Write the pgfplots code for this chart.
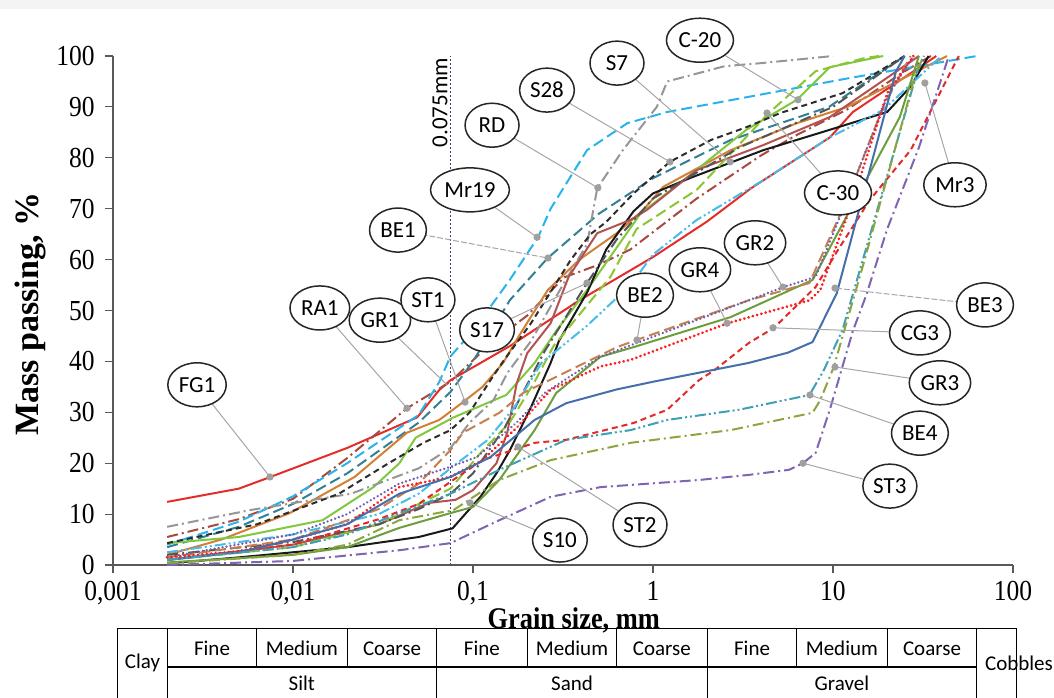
\documentclass[border=0pt]{standalone}
\usepackage{fontspec}
\usepackage{pgfplots}
\pgfplotsset{compat=1.18}
\usetikzlibrary{shapes.geometric}
\setmainfont{Liberation Serif}
\newfontfamily\serifc[FakeStretch=0.88]{Liberation Serif}
\newfontfamily\calfam{Carlito}
\newcommand\ticks{\serifc\fontsize{14.5bp}{14.5bp}\selectfont}
\newcommand\xlab{\serifc\bfseries\fontsize{15bp}{16bp}\selectfont}
\newcommand\ylab{\rmfamily\bfseries\fontsize{17bp}{17bp}\selectfont}
\newcommand\lbf{\calfam\fontsize{11.5bp}{12bp}\selectfont}
\newcommand\tbf{\calfam\fontsize{10.5bp}{12bp}\selectfont}

\definecolor{cFG}{RGB}{228,45,40}
\definecolor{cRA}{RGB}{168,72,62}
\definecolor{cMr}{RGB}{40,180,235}
\definecolor{cBE1}{RGB}{50,128,148}
\definecolor{cOr}{RGB}{212,128,52}
\definecolor{cLg}{RGB}{128,200,62}
\definecolor{cLg2}{RGB}{140,196,50}
\definecolor{cRD}{RGB}{150,150,150}
\definecolor{cBk}{RGB}{25,25,25}
\definecolor{cBr}{RGB}{178,82,82}
\definecolor{cBkd}{RGB}{45,45,45}
\definecolor{cS17}{RGB}{85,85,85}
\definecolor{cC30}{RGB}{70,188,235}
\definecolor{cGR4}{RGB}{108,158,62}
\definecolor{cBE2}{RGB}{198,128,80}
\definecolor{cGR2}{RGB}{112,92,170}
\definecolor{cRdot}{RGB}{255,30,30}
\definecolor{cCG3}{RGB}{228,40,40}
\definecolor{cBE3}{RGB}{70,110,170}
\definecolor{cBE4}{RGB}{62,160,180}
\definecolor{cGR3}{RGB}{140,165,62}
\definecolor{cST3}{RGB}{128,100,180}

\tikzset{
  cv/.style={mark=none, line width=1bp, line join=round},
  ldash/.style={dash pattern=on 5.5bp off 2.5bp},
  sdash/.style={dash pattern=on 3bp off 2bp},
  ddot/.style={dash pattern=on 5.5bp off 2bp on 1bp off 2bp},
  dddot/.style={dash pattern=on 5.5bp off 1.5bp on 1bp off 1.5bp on 1bp off 1.5bp},
  rdot/.style={dash pattern=on 0.01bp off 2.2bp, line cap=round, line width=1.5bp},
  pdot/.style={dash pattern=on 0.01bp off 2bp, line cap=round, line width=1.3bp},
  conn/.style={mark=none, gray!70, line width=0.5bp},
  lbl/.style={ellipse, draw=black!85, fill=white, line width=0.75bp, font=\lbf,
              minimum width=27bp, minimum height=22bp, inner sep=1.2bp},
}

\begin{document}
\begin{tikzpicture}
\path[use as bounding box] (-56.5bp,-66.5bp) rectangle (470.5bp,282.5bp);
\fill[gray!9] (-56.5bp,278bp) rectangle (470.5bp,282.5bp);
\begin{axis}[
  at={(0,0)}, anchor=south west, scale only axis,
  width=450bp, height=254.5bp,
  xmode=log, xmin=0.001, xmax=100, ymin=0, ymax=100,
  axis x line*=bottom, axis y line*=left,
  xtick={0.001,0.01,0.1,1,10,100},
  xticklabels={{0,001},{0,01},{0,1},1,10,100},
  ytick={0,10,...,100},
  yticklabels={0,10,20,30,40,50,60,70,80,90,100},
  xminorticks=false, yminorticks=false,
  tick align=outside, major tick length=4bp,
  tick style={gray!70!black, line width=0.6bp},
  axis line style={gray!70!black, line width=0.8bp},
  ticklabel style={font=\ticks, inner sep=0.5bp},
  xticklabel style={yshift=-3.5bp},
  yticklabel style={xshift=-4.5bp},
  clip=false,
]
% 0.075 mm line
\addplot[mark=none, color={rgb,255:red,70;green,60;blue,120}, line width=0.8bp, dash pattern=on 0.8bp off 1.2bp] coordinates {(0.075,0)(0.075,100)};

% FG1 red solid
\addplot[cv, cFG] coordinates {(0.002,12.4)(0.005,15)(0.0075,17.3)(0.02,23)(0.049,29)(0.065,34.4)(0.075,36.3)(0.16,43)(0.39,52)(1,60.5)(2,67.5)(3.5,74)(9.6,84)(12.9,89)(37.5,100)};
% RA1 brown dash-dot
\addplot[cv, cRA, ddot] coordinates {(0.002,5.5)(0.005,9)(0.01,13)(0.02,21)(0.043,30.8)(0.075,36)(0.125,43.5)(0.2,49)(0.32,56.5)(0.5,59)(0.75,62)(1.75,72)(4,80.5)(6.3,84.5)(12,89.5)(25,97)(35,100)};
% Mr19 cyan dashed
\addplot[cv, cMr, ldash] coordinates {(0.002,4)(0.005,8.5)(0.01,13.5)(0.02,20)(0.05,29.5)(0.065,36)(0.075,41)(0.1,46)(0.16,56)(0.23,64.4)(0.27,70)(0.43,81.5)(0.72,86.8)(1.2,89)(12.5,95.7)(63,100)};
% BE1 teal dashed
\addplot[cv, cBE1, ldash] coordinates {(0.002,3.5)(0.005,7.5)(0.01,12)(0.02,18)(0.05,28)(0.075,34)(0.1,40)(0.16,52)(0.26,60.3)(0.5,69)(1,76)(2.7,83.5)(9.5,90)(25,100)};
% orange solid
\addplot[cv, cOr] coordinates {(0.002,2)(0.004,5)(0.0096,10.2)(0.022,17.3)(0.043,26)(0.065,28.5)(0.088,32)(0.113,35)(0.147,39.7)(0.18,45)(0.26,54)(0.39,60)(0.63,65.2)(0.88,69.7)(1.14,74.3)(2.7,81.5)(6.3,86.8)(12,90)(43,100)};
% light green solid
\addplot[cv, cLg] coordinates {(0.002,4.3)(0.005,5.5)(0.0146,8.8)(0.028,15.3)(0.039,20)(0.048,25)(0.078,29)(0.153,33.4)(0.22,39.7)(0.29,46)(0.43,54)(0.85,69)(1.66,77)(3.3,85.5)(6.3,91.4)(9.6,97.8)(19,100)};
% RD grey dash-dot
\addplot[cv, cRD, ddot] coordinates {(0.002,7.5)(0.0058,10.8)(0.021,14)(0.05,19)(0.075,23)(0.096,28)(0.13,32.4)(0.155,37.7)(0.21,44)(0.32,55.4)(0.43,63)(0.49,74)(0.68,81.5)(1.05,90)(1.2,95)(2.5,98)(4,98.6)(10,100)};
% black solid
\addplot[cv, cBk] coordinates {(0.002,0.3)(0.005,1.5)(0.01,2.5)(0.02,3.5)(0.05,5.5)(0.077,7.2)(0.11,13.4)(0.135,18)(0.16,22.5)(0.21,31)(0.27,39.7)(0.3,44)(0.43,53.5)(0.55,62)(0.78,69.5)(1,73)(1.6,76)(4.1,81.5)(9.6,85.5)(20,89)(27,94)(34,100)};
% brown solid
\addplot[cv, cBr] coordinates {(0.002,1)(0.01,4)(0.03,8)(0.057,12.2)(0.08,12.8)(0.1,14.7)(0.135,20)(0.155,26)(0.175,35.7)(0.2,41.6)(0.27,47.5)(0.34,56.6)(0.49,65.2)(0.75,67.8)(0.92,69.7)(1.75,77.6)(4.1,82.5)(9.6,88)(30,100)};
% light green dashed
\addplot[cv, cLg2, ldash] coordinates {(0.002,1)(0.01,3.5)(0.03,8)(0.05,12)(0.075,15)(0.11,22)(0.16,28)(0.22,36)(0.28,43)(0.58,56.6)(0.81,66)(1.75,73.7)(4.4,88.8)(8,97)(15,99.6)(18,100)};
% S28 black short dashed
\addplot[cv, cBkd, sdash] coordinates {(0.002,4.3)(0.0063,8)(0.018,14)(0.034,20)(0.053,24)(0.075,26.5)(0.096,30)(0.125,36.3)(0.147,40)(0.21,47.5)(0.35,60)(0.45,65)(0.55,67.4)(0.78,73)(1.24,79.2)(2.1,83.5)(3.3,86)(5.1,88.8)(11.3,92.7)(25,100)};
% S17 dark dash-dot
\addplot[cv, cS17, ddot] coordinates {(0.002,2)(0.01,4.5)(0.03,8)(0.05,11)(0.075,14)(0.1,18)(0.15,27)(0.25,42)(0.43,55.4)(0.63,64)(1,72)(3,82)(10,90)(25,100)};
% C-30 light blue dash-dot-dot
\addplot[cv, cC30, dddot] coordinates {(0.002,2.5)(0.01,6)(0.03,10)(0.05,14)(0.075,19)(0.12,24.5)(0.17,31)(0.24,39.7)(0.43,47)(0.75,55)(1,61)(1.75,67.8)(4.1,75.6)(9.6,84)(19,89.4)(40,100)};
% GR4 olive solid
\addplot[cv, cGR4] coordinates {(0.002,0.5)(0.01,2)(0.02,3.5)(0.039,7.3)(0.075,10.2)(0.1,11.4)(0.14,16.7)(0.22,26.5)(0.29,33.8)(0.51,40.9)(0.78,42.8)(2.7,48.7)(7.7,56)(23.5,88)(30,100)};
% BE2 orange dashed
\addplot[cv, cBE2, ldash] coordinates {(0.002,1.5)(0.01,5)(0.03,11)(0.05,16)(0.075,22.6)(0.088,26)(0.14,29.9)(0.19,33.8)(0.32,37.7)(0.63,42.8)(0.81,44.2)(3.4,52)(7.4,55.4)(12,72)(19,90)(27,100)};
% GR2 purple dotted
\addplot[cv, cGR2, pdot] coordinates {(0.002,1.5)(0.01,6)(0.02,10)(0.039,16)(0.075,19.3)(0.105,21.2)(0.175,28)(0.25,33.8)(0.51,40.9)(3.4,52)(5.3,54.6)(8,56.6)(12,72)(20,92)(28,100)};
% red dotted
\addplot[cv, cRdot, rdot] coordinates {(0.002,1.5)(0.005,2.7)(0.01,5)(0.02,8)(0.039,15.3)(0.075,17.3)(0.113,20.6)(0.175,27)(0.27,34.4)(0.51,39)(0.75,40.3)(2.6,47.5)(7.4,52)(8.5,54)(12.9,71.7)(20,92.7)(28,100)};
% CG3 red dashed
\addplot[cv, cCG3, sdash] coordinates {(0.002,1)(0.01,4)(0.03,9)(0.05,12)(0.082,17.3)(0.113,20.6)(0.22,24)(0.33,24.6)(0.78,27.9)(1.2,30.5)(1.8,36.3)(2.2,38.3)(3.4,43.6)(4.7,46.6)(8,54.6)(10.7,62)(16,71.7)(27,81.5)(50,100)};
% BE3 blue solid
\addplot[cv, cBE3] coordinates {(0.002,1)(0.005,2.5)(0.01,5)(0.02,8)(0.039,14)(0.075,17.3)(0.125,21.2)(0.22,28.5)(0.33,31.8)(0.63,34.5)(1,36)(3.4,39.7)(5.6,41.7)(7.7,43.8)(10.5,53.4)(22.4,97)(25,100)};
% BE4 teal dash-dot-dot
\addplot[cv, cBE4, dddot] coordinates {(0.002,1)(0.01,3.5)(0.02,6)(0.039,10.2)(0.075,14)(0.14,18.7)(0.33,24.6)(0.75,26.5)(1.2,28.5)(3,30.5)(7.4,33.4)(8.9,38.3)(11.3,46.2)(30,98)(32,100)};
% GR3 olive dash-dot
\addplot[cv, cGR3, ddot] coordinates {(0.002,0.3)(0.01,2)(0.02,4)(0.039,8.8)(0.078,10.8)(0.14,16.7)(0.27,20.6)(0.75,24)(2.7,26.5)(7.7,29.9)(8.5,32.4)(10.1,38.9)(15,60)(29,97)(32,100)};
% ST3 purple dash-dot
\addplot[cv, cST3, ddot] coordinates {(0.002,0)(0.01,0.8)(0.039,2.9)(0.075,4.3)(0.14,8.8)(0.27,13.4)(0.51,15.3)(1.8,16.7)(3.4,17.7)(5.7,18.7)(6.8,20)(8,22)(9.6,30.5)(12.9,46)(15.3,53)(20,66)(30,82)(44,100)};

% connectors
\addplot[conn] coordinates {(0.00293,35.4)(0.00745,17.3)};
\addplot[conn] coordinates {(0.0141,50.5)(0.043,30.8)};
\addplot[conn] coordinates {(0.0304,48.1)(0.0718,35.4)};
\addplot[conn] coordinates {(0.0562,52.1)(0.0903,32.0)};
\addplot[conn, dash pattern=on 3bp off 1bp] coordinates {(0.0383,65.8)(0.261,60.3)};
\addplot[conn] coordinates {(0.0962,73.7)(0.227,64.4)};
\addplot[conn] coordinates {(0.1197,46.2)(0.430,55.4)};
\addplot[conn] coordinates {(0.1276,86.4)(0.494,74.1)};
\addplot[conn] coordinates {(0.2576,93.3)(1.242,79.2)};
\addplot[conn] coordinates {(0.631,98.6)(2.68,79.2)};
\addplot[conn] coordinates {(1.824,103.1)(6.39,91.4)};
\addplot[conn] coordinates {(10.66,73.1)(4.30,88.8)};
\addplot[conn] coordinates {(47.6,74.7)(32.4,94.7)};
\addplot[conn] coordinates {(3.69,63.3)(5.27,54.6)};
\addplot[conn] coordinates {(1.824,58.0)(2.58,47.5)};
\addplot[conn] coordinates {(0.903,53.0)(0.815,44.2)};
\addplot[conn, dash pattern=on 3bp off 1bp] coordinates {(69.9,51.1)(10.26,54.4)};
\addplot[conn] coordinates {(30.4,45.6)(4.64,46.6)};
\addplot[conn] coordinates {(39.3,35.8)(10.26,38.9)};
\addplot[conn] coordinates {(30.4,25.9)(7.45,33.4)};
\addplot[conn] coordinates {(20.7,15.5)(6.81,20.0)};
\addplot[conn] coordinates {(0.847,7.9)(0.178,23.2)};
\addplot[conn] coordinates {(0.304,4.9)(0.0962,12.2)};
\addplot[only marks, mark=*, mark size=1.6bp, color=gray!75] coordinates {
(0.00745,17.3)(0.043,30.8)(0.0903,32.0)(0.261,60.3)(0.227,64.4)(0.430,55.4)(0.494,74.1)
(1.242,79.2)(2.68,79.2)(6.39,91.4)(4.30,88.8)(32.4,94.7)(5.27,54.6)(2.58,47.5)(0.815,44.2)
(10.26,54.4)(4.64,46.6)(10.26,38.9)(7.45,33.4)(6.81,20.0)(0.178,23.2)(0.0962,12.2)};

% labels
\node[lbl] at (axis cs:0.00293,35.4) {FG1};
\node[lbl] at (axis cs:0.0141,50.5) {RA1};
\node[lbl] at (axis cs:0.0304,48.1) {GR1};
\node[lbl] at (axis cs:0.0562,52.1) {ST1};
\node[lbl] at (axis cs:0.0383,65.8) {BE1};
\node[lbl] at (axis cs:0.0962,73.7) {Mr19};
\node[lbl] at (axis cs:0.1197,46.2) {S17};
\node[lbl] at (axis cs:0.1276,86.4) {RD};
\node[lbl] at (axis cs:0.2576,93.3) {S28};
\node[lbl] at (axis cs:0.631,98.6) {S7};
\node[lbl] at (axis cs:1.824,103.1) {C-20};
\node[lbl] at (axis cs:10.66,73.1) {C-30};
\node[lbl] at (axis cs:47.6,74.7) {Mr3};
\node[lbl] at (axis cs:3.69,63.3) {GR2};
\node[lbl] at (axis cs:1.824,58.0) {GR4};
\node[lbl] at (axis cs:0.903,53.0) {BE2};
\node[lbl] at (axis cs:69.9,51.1) {BE3};
\node[lbl] at (axis cs:30.4,45.6) {CG3};
\node[lbl] at (axis cs:39.3,35.8) {GR3};
\node[lbl] at (axis cs:30.4,25.9) {BE4};
\node[lbl] at (axis cs:20.7,15.5) {ST3};
\node[lbl] at (axis cs:0.847,7.9) {ST2};
\node[lbl] at (axis cs:0.304,4.9) {S10};

\node[rotate=90, font=\calfam\fontsize{11.5bp}{12bp}\selectfont] at (axis cs:0.0655,90.8) {0.075mm};

% axis titles
\node[rotate=90, font=\ylab] at (rel axis cs:-0.0922,0.493) {Mass passing, \%};
\node[font=\xlab, inner sep=0pt] at (rel axis cs:0.512,-0.108) {Grain size, mm};

% classification table
\draw[line width=0.6bp] (axis cs:0.00106,-12.4) -- (axis cs:105,-12.4);
\draw[line width=1.1bp] (axis cs:0.002,-20) -- (axis cs:63,-20);
\draw[line width=0.6bp] (axis cs:0.00106,-12.4) -- (axis cs:0.00106,-27);
\draw[line width=0.6bp] (axis cs:0.002,-12.4) -- (axis cs:0.002,-27);
\draw[line width=0.6bp] (axis cs:0.063,-12.4) -- (axis cs:0.063,-27);
\draw[line width=0.6bp] (axis cs:2,-12.4) -- (axis cs:2,-27);
\draw[line width=0.6bp] (axis cs:63,-12.4) -- (axis cs:63,-27);
\draw[line width=0.6bp] (axis cs:105,-12.4) -- (axis cs:105,-27);
\draw[line width=0.6bp] (axis cs:0.0063,-12.4) -- (axis cs:0.0063,-20);
\draw[line width=0.6bp] (axis cs:0.02,-12.4) -- (axis cs:0.02,-20);
\draw[line width=0.6bp] (axis cs:0.2,-12.4) -- (axis cs:0.2,-20);
\draw[line width=0.6bp] (axis cs:0.63,-12.4) -- (axis cs:0.63,-20);
\draw[line width=0.6bp] (axis cs:6.3,-12.4) -- (axis cs:6.3,-20);
\draw[line width=0.6bp] (axis cs:20,-12.4) -- (axis cs:20,-20);
\node[font=\tbf] at (axis cs:0.00146,-19.2) {Clay};
\node[font=\tbf] at (axis cs:0.00355,-16.4) {Fine};
\node[font=\tbf] at (axis cs:0.0112,-16.4) {Medium};
\node[font=\tbf] at (axis cs:0.0355,-16.4) {Coarse};
\node[font=\tbf] at (axis cs:0.112,-16.4) {Fine};
\node[font=\tbf] at (axis cs:0.355,-16.4) {Medium};
\node[font=\tbf] at (axis cs:1.12,-16.4) {Coarse};
\node[font=\tbf] at (axis cs:3.55,-16.4) {Fine};
\node[font=\tbf] at (axis cs:11.2,-16.4) {Medium};
\node[font=\tbf] at (axis cs:35.5,-16.4) {Coarse};
\node[font=\tbf] at (axis cs:0.0112,-23.3) {Silt};
\node[font=\tbf] at (axis cs:0.355,-23.3) {Sand};
\node[font=\tbf] at (axis cs:11.2,-23.3) {Gravel};
\node[font=\tbf] at (axis cs:108,-19.4) {Cobbles};
\end{axis}
\end{tikzpicture}
\end{document}
